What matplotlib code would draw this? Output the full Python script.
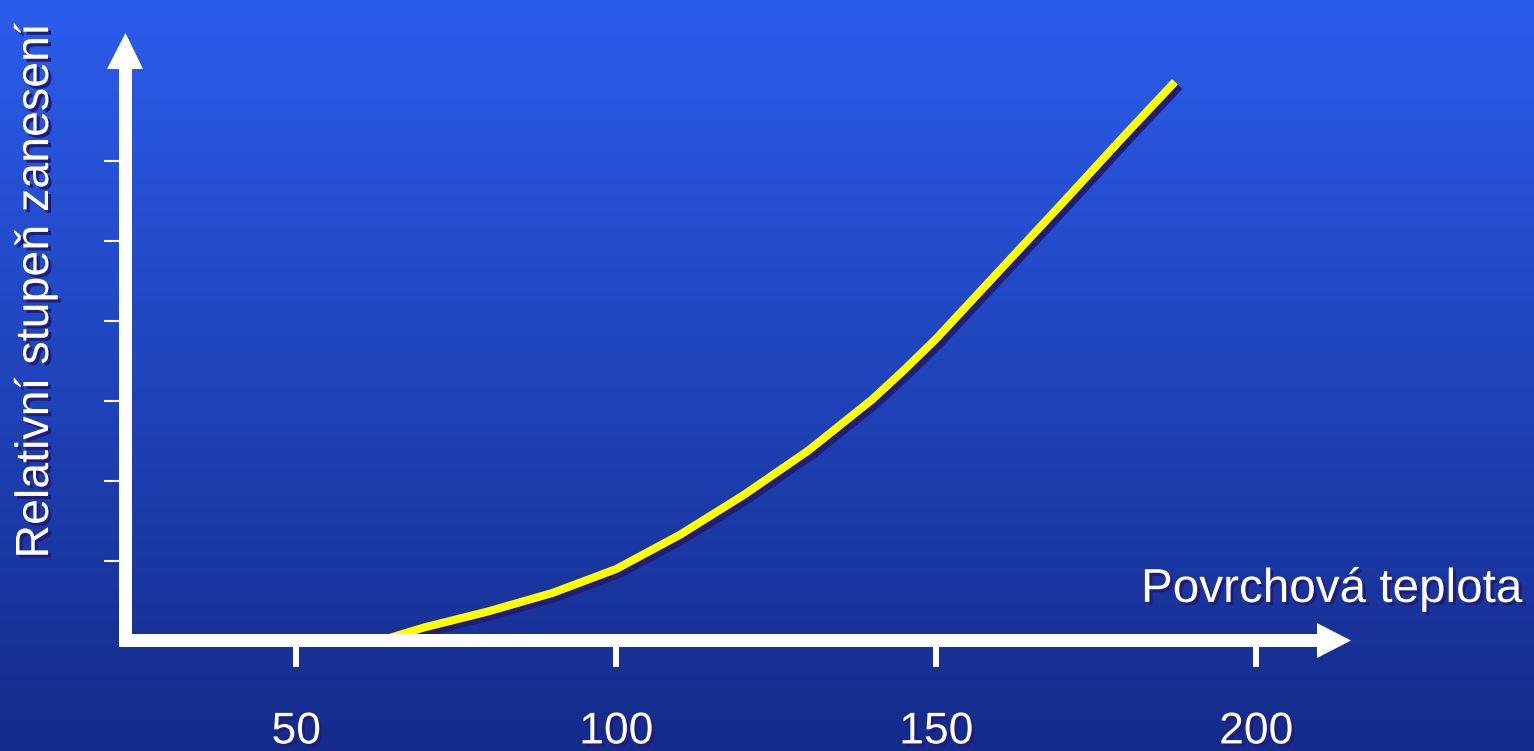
import numpy as np
import matplotlib
matplotlib.use("Agg")
import matplotlib.pyplot as plt
import matplotlib.patheffects as pe
from matplotlib.patches import Polygon

plt.rcParams['font.family'] = ['Liberation Sans', 'DejaVu Sans']

# Surface temperature vs. relative fouling degree
temperature = [63, 70, 80, 90, 100, 110, 120, 130, 140, 145, 150, 160, 170, 180, 187.3]
fouling = [0.0, 0.17, 0.37, 0.60, 0.90, 1.33, 1.83, 2.38, 3.02, 3.39, 3.78, 4.64, 5.50, 6.37, 6.99]

x_ticks = [50, 100, 150, 200]
x_tick_labels = ["50", "100", "150", "200"]
y_ticks = [1, 2, 3, 4, 5, 6]

x_label = "Povrchová teplota"
y_label = "Relativní stupeň zanesení"

W_PX, H_PX, DPI = 1534, 751, 100
TOP_RGB = np.array([43, 93, 236]) / 255
BOT_RGB = np.array([20, 43, 138]) / 255
SHADOW = "#201c78"
LINE = "#ffff00"

fig = plt.figure(figsize=(W_PX / DPI, H_PX / DPI), dpi=DPI)

# vertical gradient background
bg = fig.add_axes([0, 0, 1, 1])
t = np.linspace(0, 1, 256)[:, None]
grad = (TOP_RGB[None, :] * (1 - t) + BOT_RGB[None, :] * t)[:, None, :]
bg.imshow(grad, aspect="auto", extent=[0, 1, 0, 1], origin="upper")
bg.set_axis_off()


def px(xp, yp):
    """Pixel position (from top-left) -> figure inches."""
    return (xp / DPI, (H_PX - yp) / DPI)


# plotting area: left edge of y axis bar to x arrow tip, top arrow tip to bottom of x bar
left, right, top, bottom = 119, 1351, 33, 647
ax = fig.add_axes([left / W_PX, (H_PX - bottom) / H_PX,
                   (right - left) / W_PX, (bottom - top) / H_PX])
ax.set_facecolor("none")
ax.set_xlim(22.3, 214.8)
ax.set_ylim(-0.075, 7.6)
for s in ax.spines.values():
    s.set_visible(False)

text_fx = [pe.withSimplePatchShadow(offset=(2.2, -2.2), shadow_rgbFace=SHADOW, alpha=1.0)]

ax.plot(temperature, fouling, color=LINE, lw=5.8, solid_capstyle="butt",
        solid_joinstyle="round", zorder=3,
        path_effects=[pe.SimpleLineShadow(offset=(3.2, -3.2), shadow_color=SHADOW, alpha=1.0),
                      pe.Normal()])

ax.set_xticks(x_ticks)
ax.set_xticklabels(x_tick_labels)
ax.set_yticks(y_ticks)
ax.set_yticklabels([])
ax.tick_params(axis="x", direction="out", length=14.4, width=4.3, color="white",
               labelcolor="white", labelsize=32, pad=32)
ax.tick_params(axis="y", direction="out", length=10.8, width=1.5, color="white")
for lab in ax.get_xticklabels():
    lab.set_path_effects(text_fx)

# white axis bars with arrow heads
tr = fig.dpi_scale_trans
axis_shapes = [
    Polygon([px(119, 69), px(132, 69), px(132, 647), px(119, 647)], closed=True),
    Polygon([px(107, 69), px(143, 69), px(125.5, 33)], closed=True),
    Polygon([px(119, 634), px(1317, 634), px(1317, 647), px(119, 647)], closed=True),
    Polygon([px(1317, 623), px(1317, 658), px(1351, 640.5)], closed=True),
]
for shp in axis_shapes:
    shp.set_transform(tr)
    shp.set_facecolor("white")
    shp.set_edgecolor("none")
    shp.set_zorder(5)
    fig.add_artist(shp)

fig.text(1141 / W_PX, (H_PX - 602) / H_PX, x_label, color="white", fontsize=34.3,
         ha="left", va="baseline", path_effects=text_fx)
fig.text(36 / W_PX, (H_PX - 291) / H_PX, y_label, color="white", fontsize=33.5,
         rotation=90, ha="center", va="center", path_effects=text_fx)

fig.savefig("out.png", dpi=DPI)
